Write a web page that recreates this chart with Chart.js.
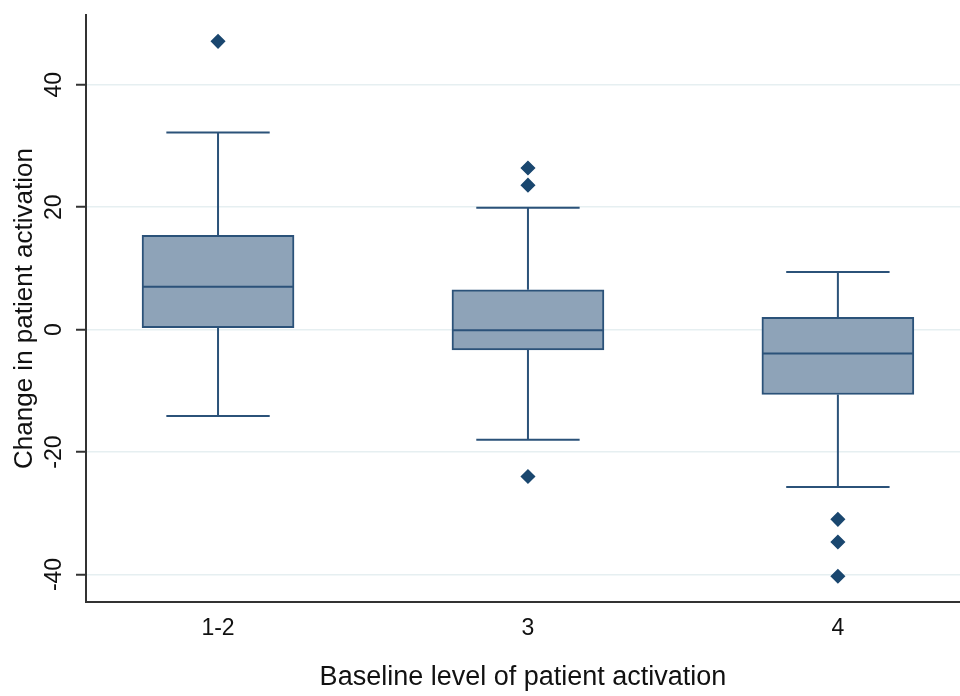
<!DOCTYPE html>
<html>
<head>
<meta charset="utf-8">
<title>Change in patient activation by baseline level</title>
<script src="https://cdn.jsdelivr.net/npm/chart.js@4/dist/chart.umd.min.js"></script>
<style>
    html, body { margin: 0; padding: 0; background: #fff; }
    #chart { display: block; }
</style>
</head>
<body>
<canvas id="chart" width="960" height="696"></canvas>
<script>
// Baseline groups and box summary values
const categories = ['1-2', '3', '4'];
const lowerWhisker = [-14.1, -18.0, -25.7];
const q1 = [0.3, -3.3, -10.6];
const median = [7.0, -0.1, -3.9];
const q3 = [15.4, 6.5, 2.0];
const upperWhisker = [32.2, 19.9, 9.4];
const outliers = [
    [47.1],
    [26.4, 23.6, -24.0],
    [-31.0, -34.7, -40.3]
];
const yTicks = [-40, -20, 0, 20, 40];

const FONT = "'Liberation Sans', Arial, sans-serif";
const LINE = '#2b5279';
const BOX_FILL = '#8ea3b8';
const MARKER = '#1a476f';
const TEXT = '#111';

// whiskers, caps and median lines, placed from the bar elements and the y scale
const boxParts = {
    id: 'boxParts',
    afterDatasetsDraw(chart) {
        const ctx = chart.ctx;
        const y = chart.scales.y;
        const meta = chart.getDatasetMeta(0);
        ctx.save();
        ctx.strokeStyle = LINE;
        ctx.lineWidth = 2;
        meta.data.forEach((bar, i) => {
            const cx = bar.x;
            const half = bar.width / 2;
            const cap = bar.width * 0.34;
            const yHi = y.getPixelForValue(upperWhisker[i]);
            const yLo = y.getPixelForValue(lowerWhisker[i]);
            const yQ1 = y.getPixelForValue(q1[i]);
            const yQ3 = y.getPixelForValue(q3[i]);
            const yMed = y.getPixelForValue(median[i]);
            ctx.beginPath();
            ctx.moveTo(cx, yQ3); ctx.lineTo(cx, yHi);
            ctx.moveTo(cx - cap, yHi); ctx.lineTo(cx + cap, yHi);
            ctx.moveTo(cx, yQ1); ctx.lineTo(cx, yLo);
            ctx.moveTo(cx - cap, yLo); ctx.lineTo(cx + cap, yLo);
            ctx.moveTo(cx - half + 1, yMed); ctx.lineTo(cx + half - 1, yMed);
            ctx.stroke();
        });
        ctx.restore();
    }
};

// y tick labels are vertical in the original
const rotatedYLabels = {
    id: 'rotatedYLabels',
    afterDraw(chart) {
        const ctx = chart.ctx;
        const y = chart.scales.y;
        ctx.save();
        ctx.font = '23px ' + FONT;
        ctx.fillStyle = TEXT;
        ctx.textAlign = 'center';
        ctx.textBaseline = 'middle';
        y.ticks.forEach(t => {
            ctx.save();
            ctx.translate(55, y.getPixelForValue(t.value));
            ctx.rotate(-Math.PI / 2);
            ctx.fillText(String(t.value), 0, 0);
            ctx.restore();
        });
        ctx.restore();
    }
};

const outlierPoints = [];
outliers.forEach((list, i) => list.forEach(v => outlierPoints.push({ x: i + 1, y: v })));

new Chart(document.getElementById('chart'), {
    type: 'bar',
    data: {
        datasets: [
            {
                label: 'IQR',
                data: categories.map((c, i) => ({ x: i + 1, y: [q1[i], q3[i]] })),
                backgroundColor: BOX_FILL,
                borderColor: LINE,
                borderWidth: 2,
                borderSkipped: false,
                barThickness: 152,
                order: 2
            },
            {
                type: 'scatter',
                label: 'Outliers',
                data: outlierPoints,
                pointStyle: 'rectRot',
                pointRadius: 6.5,
                backgroundColor: MARKER,
                borderColor: MARKER,
                borderWidth: 1.5,
                order: 1
            }
        ]
    },
    options: {
        responsive: false,
        animation: false,
        layout: { autoPadding: false, padding: { top: 15, right: 0, bottom: 0, left: 0 } },
        plugins: {
            legend: { display: false },
            tooltip: { enabled: false }
        },
        scales: {
            x: {
                type: 'linear',
                offset: false,
                min: 0.574,
                max: 3.394,
                afterBuildTicks: s => { s.ticks = categories.map((c, i) => ({ value: i + 1 })); },
                afterFit: s => { s.height = 94; },
                grid: { display: false, drawTicks: false },
                border: { display: true, color: '#333', width: 2 },
                ticks: {
                    padding: 13,
                    color: TEXT,
                    font: { family: FONT, size: 23 },
                    callback: v => categories[v - 1]
                },
                title: {
                    display: true,
                    text: 'Baseline level of patient activation',
                    color: TEXT,
                    font: { family: FONT, size: 27 },
                    padding: { top: 0, bottom: 2 }
                }
            },
            y: {
                min: -44.5,
                max: 51.4,
                afterBuildTicks: s => { s.ticks = yTicks.map(v => ({ value: v })); },
                afterFit: s => { s.width = 86; },
                grid: {
                    color: '#e6eff1',
                    lineWidth: 1.5,
                    drawTicks: true,
                    tickLength: 10,
                    tickColor: '#333',
                    tickWidth: 2
                },
                border: { display: true, color: '#333', width: 2 },
                ticks: { display: false },
                title: {
                    display: true,
                    text: 'Change in patient activation',
                    color: TEXT,
                    font: { family: FONT, size: 26 },
                    padding: { top: 9, bottom: 0 }
                }
            }
        }
    },
    plugins: [boxParts, rotatedYLabels]
});
</script>
</body>
</html>
